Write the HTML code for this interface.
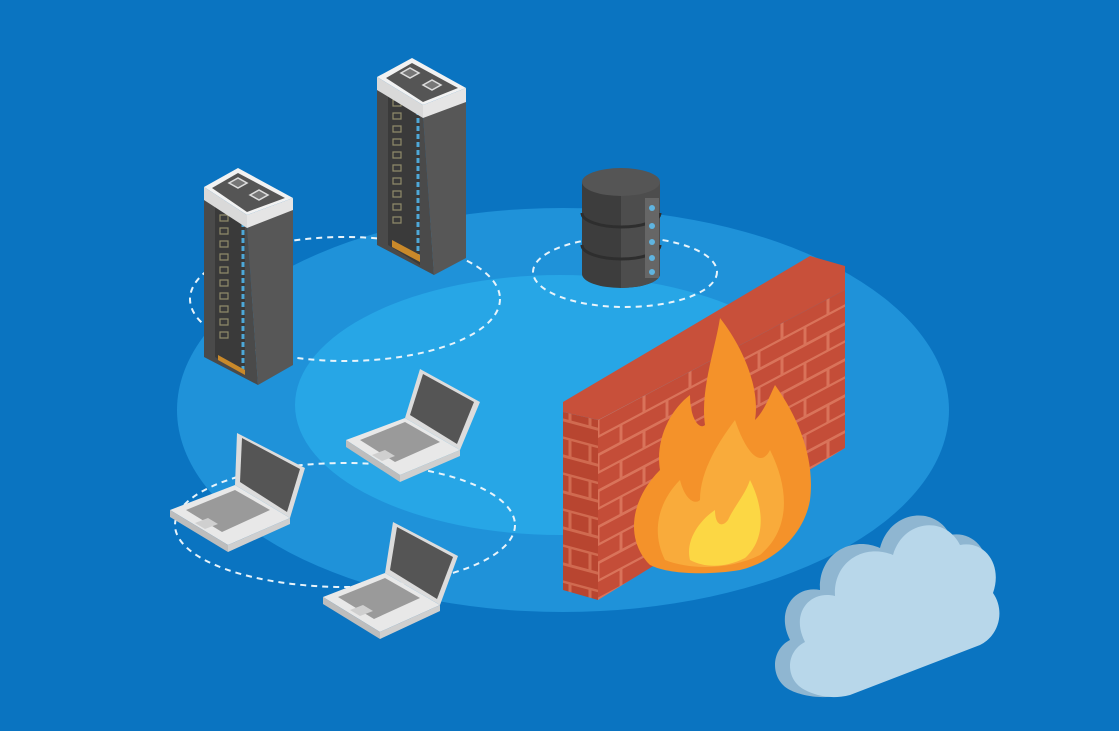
<!DOCTYPE html>
<html><head><meta charset="utf-8"><style>html,body{margin:0;padding:0;background:#0a74c1;}svg{display:block}</style></head>
<body>
<svg width="1119" height="731" viewBox="0 0 1119 731" xmlns="http://www.w3.org/2000/svg">
<rect width="1119" height="731" fill="#0a74c1"/>
<ellipse cx="563" cy="410" rx="386" ry="202" fill="#1f92d9"/>
<ellipse cx="560" cy="405" rx="265" ry="130" fill="#27a6e6"/>
<g fill="none" stroke="#e8f4fb" stroke-width="2" stroke-dasharray="6,5">
<ellipse cx="345" cy="299" rx="155" ry="62"/>
<ellipse cx="625" cy="272" rx="92" ry="35"/>
<ellipse cx="345" cy="525" rx="170" ry="62"/>
</g>
<!-- server 1 -->
<g>
<polygon points="204,200 247,225 258,385 204,357" fill="#4a4a4a"/>
<polygon points="247,225 293,205 293,365 258,385" fill="#575757"/>
<polygon points="215,205 245,222 245,375 215,357" fill="#3a3a3a"/>
<g fill="none" stroke="#8f8a6a" stroke-width="1.2">
<path d="M220 215h8v6h-8zM220 228h8v6h-8zM220 241h8v6h-8zM220 254h8v6h-8zM220 267h8v6h-8zM220 280h8v6h-8zM220 293h8v6h-8zM220 306h8v6h-8zM220 319h8v6h-8zM220 332h8v6h-8z"/>
</g>
<line x1="243" y1="222" x2="243" y2="372" stroke="#4ea8d8" stroke-width="3" stroke-dasharray="5,3"/>
<polygon points="218,355 245,370 245,375 218,360" fill="#c9892a"/>
<polygon points="204,187 238,168 293,198 247,215" fill="#f2f2f2"/>
<polygon points="204,187 247,215 247,228 204,200" fill="#d9d9d9"/>
<polygon points="247,215 293,198 293,210 247,228" fill="#e5e5e5"/>
<polygon points="212,188 238,173 285,198 247,212" fill="#555"/>
<polygon points="229,183 238,178 247,183 238,188" fill="#777" stroke="#ddd" stroke-width="1.5"/>
<polygon points="250,195 259,190 268,195 259,200" fill="#777" stroke="#ddd" stroke-width="1.5"/>
</g>
<!-- server 2 -->
<g>
<polygon points="377,90 423,115 434,275 377,245" fill="#4a4a4a"/>
<polygon points="423,115 466,100 466,258 434,275" fill="#575757"/>
<polygon points="388,92 420,110 420,265 388,245" fill="#3a3a3a"/>
<g fill="none" stroke="#8f8a6a" stroke-width="1.2">
<path d="M393 100h8v6h-8zM393 113h8v6h-8zM393 126h8v6h-8zM393 139h8v6h-8zM393 152h8v6h-8zM393 165h8v6h-8zM393 178h8v6h-8zM393 191h8v6h-8zM393 204h8v6h-8zM393 217h8v6h-8z"/>
</g>
<line x1="418" y1="110" x2="418" y2="262" stroke="#4ea8d8" stroke-width="3" stroke-dasharray="5,3"/>
<polygon points="392,240 420,255 420,262 392,247" fill="#c9892a"/>
<polygon points="377,77 412,58 466,88 423,105" fill="#f2f2f2"/>
<polygon points="377,77 423,105 423,118 377,90" fill="#d9d9d9"/>
<polygon points="423,105 466,88 466,102 423,118" fill="#e5e5e5"/>
<polygon points="386,78 412,63 458,88 423,102" fill="#555"/>
<polygon points="401,73 410,68 419,73 410,78" fill="#777" stroke="#ddd" stroke-width="1.5"/>
<polygon points="423,85 432,80 441,85 432,90" fill="#777" stroke="#ddd" stroke-width="1.5"/>
</g>
<!-- database -->
<g>
<path d="M582 182 v92 a39 14 0 0 0 78 0 v-92z" fill="#3d3d3d"/>
<path d="M621 196 v92 a39 14 0 0 0 39 -14 v-92z" fill="#4d4d4d"/>
<ellipse cx="621" cy="182" rx="39" ry="14" fill="#555"/>
<path d="M582 213 a39 14 0 0 0 78 0" fill="none" stroke="#2e2e2e" stroke-width="3"/>
<path d="M582 245 a39 14 0 0 0 78 0" fill="none" stroke="#2e2e2e" stroke-width="3"/>
<rect x="645" y="198" width="14" height="80" fill="#666"/>
<g fill="#5fb4e0"><circle cx="652" cy="208" r="3"/><circle cx="652" cy="226" r="3"/><circle cx="652" cy="242" r="3"/><circle cx="652" cy="258" r="3"/><circle cx="652" cy="272" r="3"/></g>
</g>
<!-- laptops -->
<g>
<polygon points="346,440 405,418 460,450 400,475" fill="#e8e8e8"/>
<polygon points="346,440 400,475 400,482 346,447" fill="#bdbdbd"/>
<polygon points="400,475 460,450 460,456 400,482" fill="#cfcfcf"/>
<polygon points="360,440 405,422 440,442 395,462" fill="#9a9a9a"/>
<polygon points="372,455 385,450 395,456 382,461" fill="#cfcfcf"/>
<polygon points="405,418 420,369 480,402 460,450" fill="#dcdcdc"/>
<polygon points="410,415 423,374 474,402 457,444" fill="#555"/>
</g>
<g>
<polygon points="170,510 235,485 290,518 228,545" fill="#e8e8e8"/>
<polygon points="170,510 228,545 228,552 170,517" fill="#bdbdbd"/>
<polygon points="228,545 290,518 290,524 228,552" fill="#cfcfcf"/>
<polygon points="186,510 235,490 270,510 222,532" fill="#9a9a9a"/>
<polygon points="195,523 208,518 218,524 205,529" fill="#cfcfcf"/>
<polygon points="235,485 237,433 305,468 290,518" fill="#dcdcdc"/>
<polygon points="240,482 242,438 300,469 287,512" fill="#555"/>
</g>
<g>
<polygon points="323,597 385,573 440,605 380,632" fill="#e8e8e8"/>
<polygon points="323,597 380,632 380,639 323,604" fill="#bdbdbd"/>
<polygon points="380,632 440,605 440,611 380,639" fill="#cfcfcf"/>
<polygon points="338,597 385,578 420,598 374,619" fill="#9a9a9a"/>
<polygon points="350,610 363,605 373,611 360,616" fill="#cfcfcf"/>
<polygon points="385,573 393,522 458,556 440,605" fill="#dcdcdc"/>
<polygon points="390,570 397,527 453,557 437,599" fill="#555"/>
</g>
<!-- wall -->
<defs>
<pattern id="brick" width="46" height="36" patternUnits="userSpaceOnUse" patternTransform="skewY(-28)">
<rect width="46" height="36" fill="#c44d38"/>
<path d="M0 17H46M0 35H46M23 0V18M0 18V36M46 18V36" stroke="#d9735a" stroke-width="3"/>
</pattern>
<pattern id="brick2" width="20" height="36" patternUnits="userSpaceOnUse" patternTransform="skewY(15)">
<rect width="20" height="36" fill="#b84530"/>
<path d="M0 17H20M0 35H20M10 0V18" stroke="#d06a50" stroke-width="3"/>
</pattern>
</defs>
<polygon points="598,420 845,290 845,448 598,600" fill="url(#brick)"/>
<polygon points="563,412 598,420 598,600 563,590" fill="url(#brick2)"/>
<polygon points="563,402 810,256 845,266 845,290 598,420 563,412" fill="#c8503a"/>
<!-- fire -->
<path d="M650 565 C625 540 630 500 660 470 C655 440 670 410 690 395 C690 420 700 430 705 425 C700 390 715 350 720 318 C745 350 760 390 755 420 C765 410 770 395 775 385 C800 420 815 460 810 500 C805 530 780 560 740 570 C710 575 670 575 650 565Z" fill="#f4922a"/>
<path d="M665 560 C650 530 660 500 680 480 C685 500 695 505 700 500 C700 470 720 440 735 420 C745 450 760 470 770 450 C790 490 790 530 760 555 C730 570 690 570 665 560Z" fill="#f9ab3b"/>
<path d="M690 560 C685 540 700 520 715 510 C715 525 722 528 728 520 C735 505 745 495 750 480 C765 510 765 540 745 558 C725 568 705 568 690 560Z" fill="#fcd744"/>
<!-- cloud -->
<path d="M790 690 C770 680 770 650 790 640 C775 610 795 585 820 590 C818 555 850 535 880 548 C890 510 935 505 950 535 C975 530 995 555 985 585 C1000 600 995 630 975 640 L840 695 C820 700 800 695 790 690Z" fill="#8fb6d1"/>
<path d="M805 690 C785 680 785 652 805 642 C790 613 810 590 835 596 C833 562 864 543 893 555 C903 520 945 515 960 545 C985 540 1003 565 993 593 C1005 610 1000 635 980 645 L850 695 C830 700 815 695 805 690Z" fill="#b8d7ea"/>
</svg>
</body></html>
